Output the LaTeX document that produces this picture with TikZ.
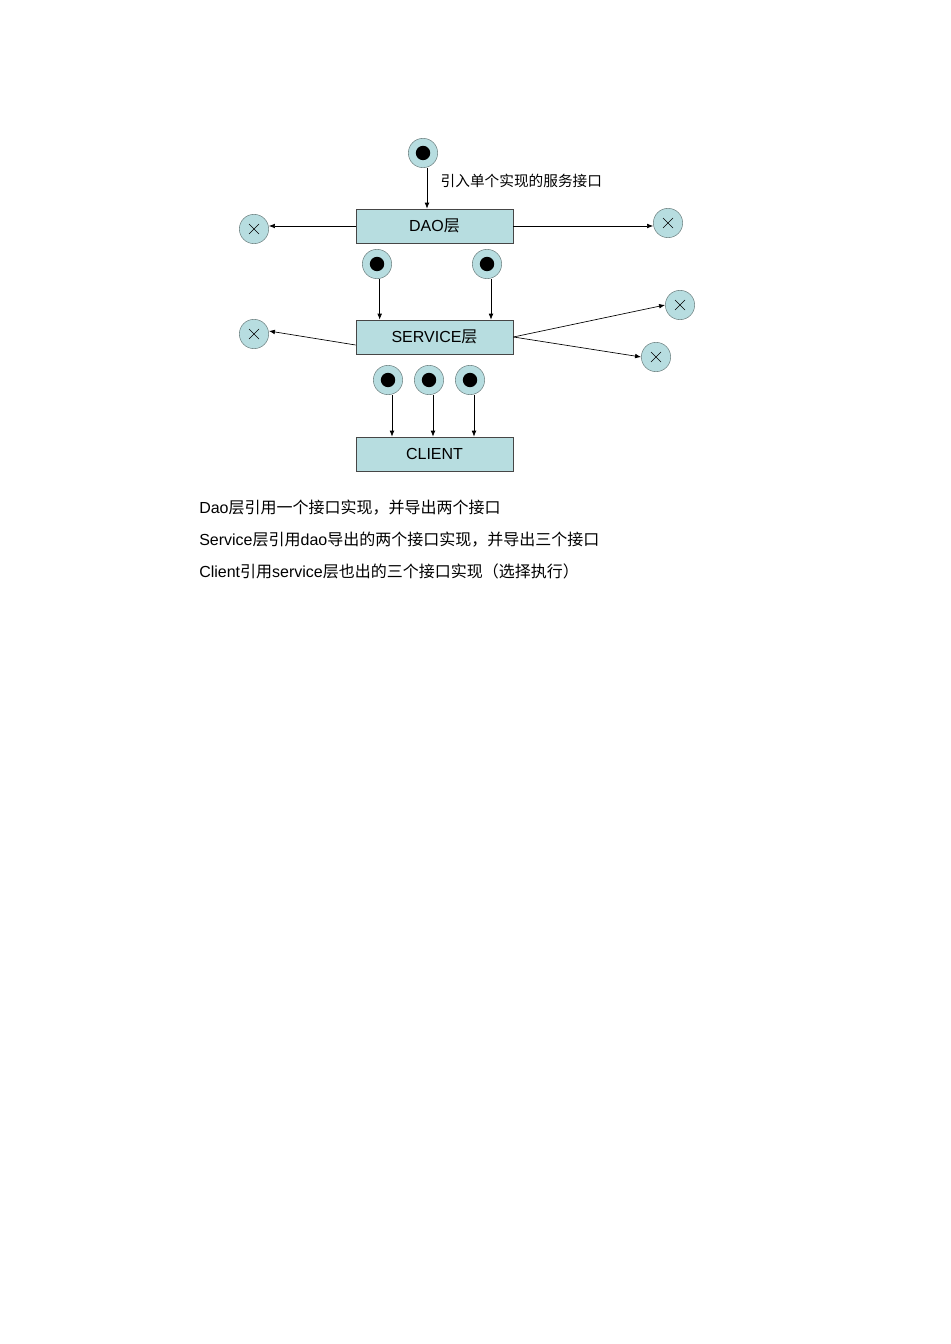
\documentclass[tikz,border=0pt]{standalone}
\usepackage{fontspec}
\usetikzlibrary{arrows.meta}
\setmainfont{Liberation Sans}
\newfontfamily\cjk{Noto Sans CJK SC}
\begin{document}
\begin{tikzpicture}[x=0.75pt,y=-0.75pt,
  fillc/.style={fill={rgb,255:red,183;green,221;blue,224}},
  box/.style={draw={rgb,255:red,70;green,70;blue,70},fillc,minimum width=118pt,minimum height=25.5pt,inner sep=0pt,font=\fontsize{12}{14}\selectfont},
  port/.style={circle,draw={rgb,255:red,110;green,130;blue,130},fillc,minimum size=22pt,inner sep=0pt},
  arr/.style={-{Latex[length=4.5pt,width=3.5pt]},draw=black,line width=0.5pt}]
\useasboundingbox (0,0) rectangle (950,1344);
\newcommand{\dotport}[2]{\node[port] (#1) at #2 {}; \fill (#1) circle (5.4pt);}
\newcommand{\xport}[2]{\node[port] (#1) at #2 {}; \draw[line width=0.5pt] ([shift={(-5,-5)}]#1.center) -- ([shift={(5,5)}]#1.center) ([shift={(-5,5)}]#1.center) -- ([shift={(5,-5)}]#1.center);}
\node[box] (dao) at (434.5,226) {DAO{\cjk 层}};
\node[box] (svc) at (434.5,337) {SERVICE{\cjk 层}};
\node[box] (cli) at (434.5,454) {CLIENT};
\dotport{t}{(423,153)}
\dotport{d1}{(377,264)}
\dotport{d2}{(487,264)}
\dotport{s1}{(388,380)}
\dotport{s2}{(429,380)}
\dotport{s3}{(470,380)}
\xport{xl1}{(254,229)}
\xport{xr1}{(668,223)}
\xport{xl2}{(254,334)}
\xport{xr2}{(680,305)}
\xport{xr3}{(656,357)}
\draw[arr] ([xshift=3]t.south) -- ([xshift=3]t.south |- dao.north);
\draw[arr] (dao.west) -- (xl1.east |- dao.west);
\draw[arr] (dao.east) -- (xr1.west |- dao.east);
\draw[arr] ([xshift=2]d1.south) -- ([xshift=2]d1.south |- svc.north);
\draw[arr] ([xshift=3]d2.south) -- ([xshift=3]d2.south |- svc.north);
\draw[arr] ([yshift=-6]svc.west) -- (xl2.east |- 0,331);
\draw[arr] (svc.east) -- (xr2.west);
\draw[arr] (svc.east) -- (xr3.west);
\draw[arr] ([xshift=3]s1.south) -- ([xshift=3]s1.south |- cli.north);
\draw[arr] ([xshift=3]s2.south) -- ([xshift=3]s2.south |- cli.north);
\draw[arr] ([xshift=3]s3.south) -- ([xshift=3]s3.south |- cli.north);
\node[anchor=west,font=\cjk\fontsize{11}{13}\selectfont] (lab) at (436,181) {引入单个实现的服务接口};
\node[anchor=west,font=\fontsize{12}{14}\selectfont,inner sep=0pt] (l1) at (199,508) {Dao{\cjk 层引用一个接口实现，并导出两个接口}};
\node[anchor=west,font=\fontsize{12}{14}\selectfont,inner sep=0pt] (l2) at (199,540) {Service{\cjk 层引用}dao{\cjk 导出的两个接口实现，并导出三个接口}};
\node[anchor=west,font=\fontsize{12}{14}\selectfont,inner sep=0pt] (l3) at (199,571) {Client{\cjk 引用}service{\cjk 层也出的三个接口实现（选择执行）}};
\end{tikzpicture}
\end{document}
